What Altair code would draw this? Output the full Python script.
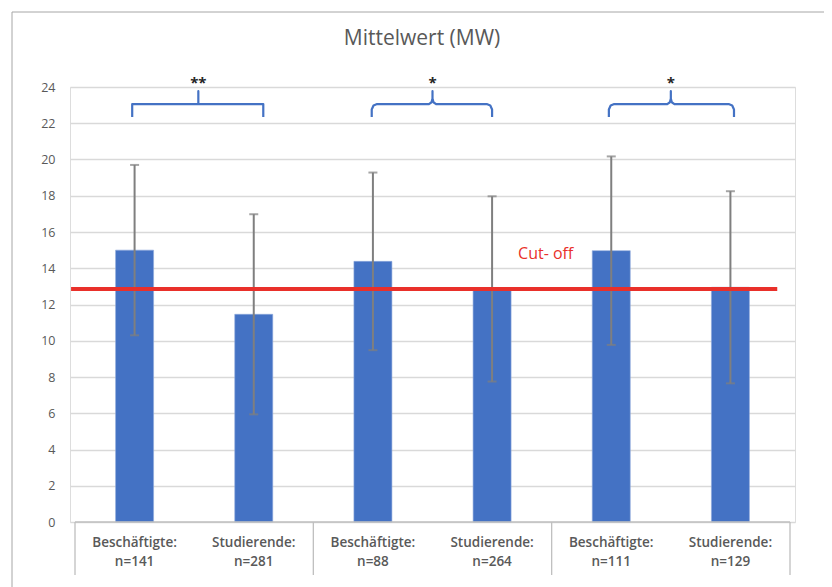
import altair as alt
import pandas as pd

# ---- data ----
groups = ["Beschäftigte:", "Studierende:", "Beschäftigte:", "Studierende:", "Beschäftigte:", "Studierende:"]
n_labels = ["n=141", "n=281", "n=88", "n=264", "n=111", "n=129"]
means = [15.0, 11.46, 14.38, 12.86, 14.97, 12.95]
sds = [4.7, 5.52, 4.9, 5.11, 5.2, 5.3]
cutoff = 12.86
cutoff_label = "Cut- off"
sig_labels = ["**", "*", "*"]
y_ticks = list(range(0, 25, 2))

# annotation geometry (bracket spans in bar-index units, heights in y units)
br_left = [0.48, 2.49, 4.48]
br_right = [1.58, 3.50, 5.53]
br_center = [1.035, 3.0, 5.0]
br_curly = [False, True, True]
br_low, br_mid, br_top, star_y = 22.34, 23.06, 23.77, 24.2

FONT = "Open Sans"
GRAY_TXT = "#595959"
BLUE = "#4472c4"

n = len(means)
bars = pd.DataFrame({
    "x": [i + 0.5 for i in range(n)],
    "mean": means,
    "lo": [m - s for m, s in zip(means, sds)],
    "hi": [m + s for m, s in zip(means, sds)],
    "label": [g + "\n" + t for g, t in zip(groups, n_labels)],
})

# bracket paths
rows = []
for g in range(3):
    xl, xr, c = br_left[g], br_right[g], br_center[g]
    if br_curly[g]:
        pts = [(xl, br_low), (xl, br_mid - 0.3), (xl + 0.015, br_mid - 0.08), (xl + 0.045, br_mid),
               (c - 0.03, br_mid), (c - 0.008, br_mid + 0.1), (c, br_mid + 0.3), (c, br_top),
               (c, br_mid + 0.3), (c + 0.008, br_mid + 0.1), (c + 0.03, br_mid),
               (xr - 0.045, br_mid), (xr - 0.015, br_mid - 0.08), (xr, br_mid - 0.3), (xr, br_low)]
    else:
        pts = [(xl, br_low), (xl, br_mid), (c, br_mid), (c, br_top), (c, br_mid), (xr, br_mid), (xr, br_low)]
    for k, (px, py) in enumerate(pts):
        rows.append({"g": g, "k": k, "x": px, "y": py})
brackets = pd.DataFrame(rows)
stars = pd.DataFrame({"x": br_center, "y": [star_y] * 3, "t": sig_labels})

xs = alt.Scale(domain=[0, n], nice=False, zero=False)
ys = alt.Scale(domain=[0, 24], nice=False)
yaxis = alt.Axis(values=y_ticks, tickCount=13, labelOverlap=False, grid=True, gridColor="#d9d9d9",
                 gridWidth=1.3, domain=False, ticks=False, labelPadding=15, labelFont=FONT,
                 labelFontSize=12.5, labelColor=GRAY_TXT, title=None)


def X(f):
    return alt.X(f, scale=xs, axis=None)


def Y(f):
    return alt.Y(f, scale=ys, axis=yaxis)


base = alt.Chart(bars)

frame = alt.Chart(pd.DataFrame({"a": [0]})).mark_rect(
    filled=False, stroke="#a6a6a6", strokeWidth=1
).encode(x=alt.value(-58), x2=alt.value(758), y=alt.value(-75), y2=alt.value(520))

bar = base.mark_bar(size=38, color=BLUE, stroke="#8faadc", strokeWidth=0.6).encode(
    x=X("x:Q"), y=Y("mean:Q"))

err = base.mark_rule(color="#7f7f7f", strokeWidth=2).encode(
    x=X("x:Q"), y=Y("lo:Q"), y2="hi:Q")
cap_hi = base.mark_tick(orient="horizontal", size=9, thickness=2, color="#7f7f7f").encode(
    x=X("x:Q"), y=Y("hi:Q"))
cap_lo = base.mark_tick(orient="horizontal", size=9, thickness=2, color="#7f7f7f").encode(
    x=X("x:Q"), y=Y("lo:Q"))

cut = alt.Chart(pd.DataFrame({"x": [-0.033], "x2": [5.893], "y": [cutoff]})).mark_rule(
    color="#e9302a", strokeWidth=4).encode(x=X("x:Q"), x2="x2:Q", y=Y("y:Q"))
cut_txt = alt.Chart(pd.DataFrame({"x": [3.95], "y": [14.79], "t": [cutoff_label]})).mark_text(
    font=FONT, fontSize=16, color="#e9302a", align="center", baseline="middle").encode(
    x=X("x:Q"), y=Y("y:Q"), text="t:N")

# category table lines
base_line = alt.Chart(pd.DataFrame({"x": [0], "x2": [n], "y": [0]})).mark_rule(
    color="#bfbfbf", strokeWidth=1.3).encode(x=X("x:Q"), x2="x2:Q", y=Y("y:Q"))
seps = alt.Chart(pd.DataFrame({"x": [0, 2, 4, 6]})).mark_rule(color="#bfbfbf", strokeWidth=1.3).encode(
    x=X("x:Q"), y=alt.value(435), y2=alt.value(488))
cat_txt = base.mark_text(font=FONT, fontSize=13.5, fontWeight=600, color=GRAY_TXT,
                         lineBreak="\n", lineHeight=19, align="center", baseline="top").encode(
    x=X("x:Q"), y=alt.value(449), text="label:N")

br = alt.Chart(brackets).mark_line(color=BLUE, strokeWidth=2.2, strokeJoin="round").encode(
    x=X("x:Q"), y=Y("y:Q"), detail="g:N", order="k:Q")
st = alt.Chart(stars).mark_text(font=FONT, fontSize=15, fontWeight="bold", color="#262626",
                                baseline="middle").encode(
    x=X("x:Q"), y=Y("y:Q"), text="t:N")

title = alt.Chart(pd.DataFrame({"t": ["Mittelwert (MW)"]})).mark_text(
    font=FONT, fontSize=21, color=GRAY_TXT, baseline="middle", align="center").encode(
    x=alt.value(352), y=alt.value(-48), text="t:N")

chart = alt.layer(frame, bar, err, cap_hi, cap_lo, cut, cut_txt, base_line, seps, cat_txt,
                  br, st, title).properties(
    width=725, height=435,
    autosize=alt.AutoSizeParams(type="none"),
    padding={"left": 62, "top": 79, "right": 29, "bottom": 70},
).configure_view(stroke=None).configure(background="white")

chart.save("out.html", embed_options={"renderer": "svg", "actions": False})
